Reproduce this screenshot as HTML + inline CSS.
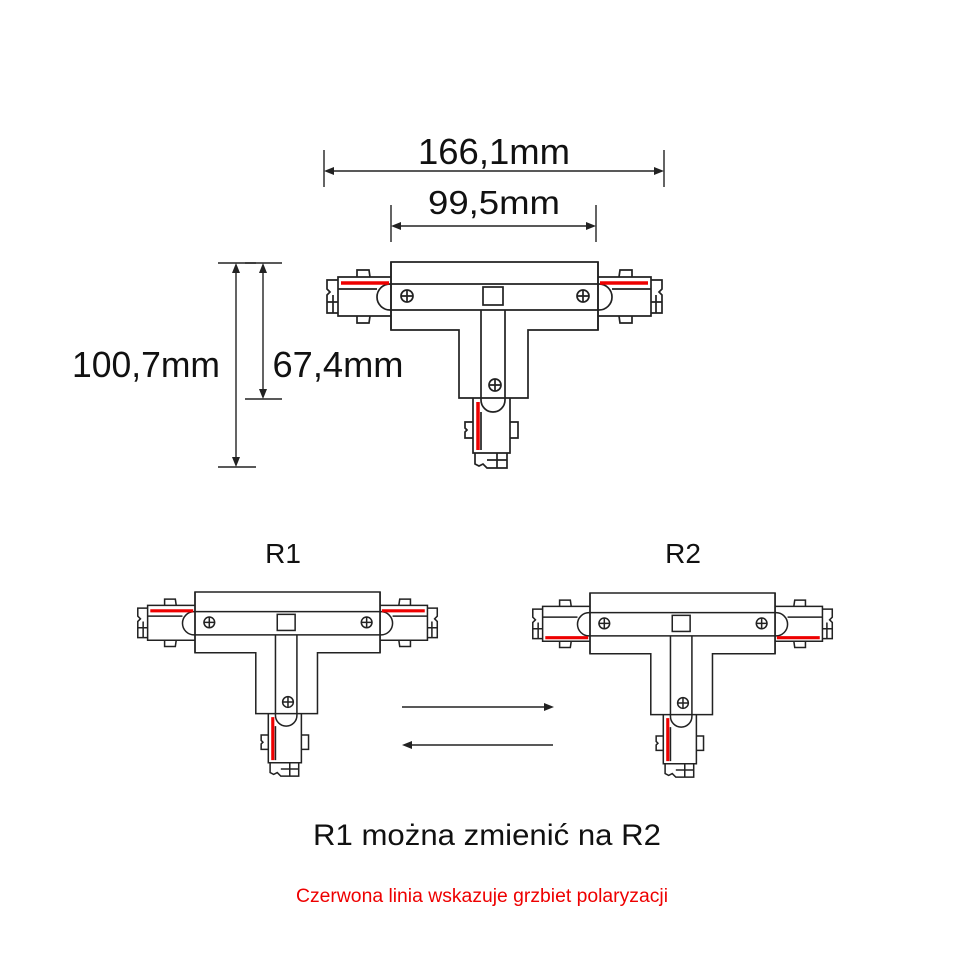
<!DOCTYPE html>
<html><head><meta charset="utf-8"><style>
html,body{margin:0;padding:0;background:#fff;}
svg{display:block;}
text{font-family:"Liberation Sans",sans-serif;}
</style></head><body>
<svg width="960" height="960" viewBox="0 0 960 960" xmlns="http://www.w3.org/2000/svg">
<defs>
<g id="base" fill="none" stroke="#222" stroke-width="1.7">
  <path d="M0 15 H-53 V54 H0 M-53 27 H-14" />
  <path d="M-34 15 V8 H-22 L-21 15 M-34 54 V61 H-22 L-21 54"/>
  <path d="M-53 18 H-64 V27 L-61 30 L-64 33 V51 H-53 M-64 40 H-53 M-58 33 V51"/>
  <path d="M207 15 H260 V54 H207 M260 27 H221" />
  <path d="M241 15 V8 H229 L228 15 M241 54 V61 H229 L228 54"/>
  <path d="M260 18 H271 V27 L268 30 L271 33 V51 H260 M271 40 H260 M265 33 V51"/>
  <path d="M82 136 V191 H119 V136 M90 150 V188"/>
  <path d="M82 160 H74 V166 L76 168 L74 170 V176 H82 M119 160 H127 V176 H119"/>
  <path d="M84 191 V202 L88 204 L92 202 L96 206 H116 V191 M96 198 H116 M106 191 V206"/>
  <path d="M0 0 H207 V68 H137 V136 H68 V68 H0 Z" fill="#fff"/>
  <rect x="-14" y="22" width="235" height="26" rx="13"/>
  <line x1="0" y1="0" x2="0" y2="68"/><line x1="207" y1="0" x2="207" y2="68"/>
  <path d="M90 48 V138 A12 12 0 0 0 114 138 V48"/>
  <rect x="92" y="25" width="20" height="18"/>
  <circle cx="16" cy="34" r="6"/><path d="M10 34 H22 M16 28 V40"/>
  <circle cx="192" cy="34" r="6"/><path d="M186 34 H198 M192 28 V40"/>
  <circle cx="104" cy="123" r="6"/><path d="M98 123 H110 M104 117 V129"/>
</g>
</defs>
<g transform="translate(391,262)">
  <use href="#base"/>
  <g stroke="#e00" stroke-width="3.5"><path d="M-50 21 H-2 M209 21 H257 M87 140 V188"/></g>
</g>
<g transform="translate(195,592) scale(0.894)">
  <use href="#base"/>
  <g stroke="#e00" stroke-width="3.5"><path d="M-50 21 H-2 M209 21 H257 M87 140 V188"/></g>
</g>
<g transform="translate(590,593) scale(0.894)">
  <use href="#base"/>
  <g stroke="#e00" stroke-width="3.5"><path d="M-50 50 H-2 M209 50 H257 M87 140 V188"/></g>
</g>
<g stroke="#222" stroke-width="1.4" fill="none">
  <path d="M324 150 V187 M664 150 V187 M330 171 H658"/>
  <path d="M391 205 V242 M596 205 V242 M397 226 H590"/>
  <path d="M218 263 H256 M218 467 H256 M236 269 V461"/>
  <path d="M245 263 H282 M245 399 H282 M263 269 V393"/>
  <path d="M402 707 H546 M409 745 H553"/>
</g>
<g fill="#222">
  <path d="M324 171 L334 167 L334 175Z M664 171 L654 167 L654 175Z"/>
  <path d="M391 226 L401 222 L401 230Z M596 226 L586 222 L586 230Z"/>
  <path d="M236 263 L232 273 L240 273Z M236 467 L232 457 L240 457Z"/>
  <path d="M263 263 L259 273 L267 273Z M263 399 L259 389 L267 389Z"/>
  <path d="M554 707 L544 703 L544 711Z M402 745 L412 741 L412 749Z"/>
</g>
<g fill="#111">
<text x="494" y="164" font-size="36" text-anchor="middle" textLength="152" lengthAdjust="spacingAndGlyphs">166,1mm</text>
<text x="494" y="214" font-size="33" text-anchor="middle" textLength="132" lengthAdjust="spacingAndGlyphs">99,5mm</text>
<text x="146" y="377" font-size="36" text-anchor="middle" textLength="148" lengthAdjust="spacingAndGlyphs">100,7mm</text>
<text x="338" y="377" font-size="36" text-anchor="middle" textLength="131" lengthAdjust="spacingAndGlyphs">67,4mm</text>
<text x="283" y="563" font-size="28" text-anchor="middle">R1</text>
<text x="683" y="563" font-size="28" text-anchor="middle">R2</text>
<text x="487" y="845" font-size="30" text-anchor="middle" textLength="348" lengthAdjust="spacingAndGlyphs">R1 można zmienić na R2</text>
</g>
<text x="482" y="902" font-size="19" text-anchor="middle" fill="#e00" textLength="372" lengthAdjust="spacingAndGlyphs">Czerwona linia wskazuje grzbiet polaryzacji</text>
</svg>
</body></html>
